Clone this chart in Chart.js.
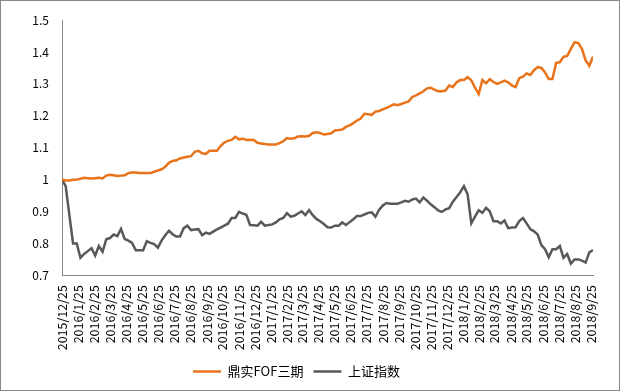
<!DOCTYPE html>
<html>
<head>
<meta charset="utf-8">
<script src="https://cdn.jsdelivr.net/npm/chart.js@4.4.0/dist/chart.umd.min.js"></script>
<style>
  body { margin: 0; background: #fff; }
  #box { position: relative; width: 620px; height: 391px; }
  #box canvas { position: absolute; left: 0; top: 0; }
  #frame { position: absolute; left: 0; top: 0; width: 620px; height: 391px; box-sizing: border-box; border: 1px solid #898989; pointer-events: none; }
</style>
</head>
<body>
<div id="box">
  <canvas id="myChart" width="620" height="391"></canvas>
  <div id="frame"></div>
</div>
<script>
// primera fecha de la serie semanal (viernes)
const startDate = "2015/12/25";

const monthLabels = [
  "2015/12/25", "2016/1/25", "2016/2/25", "2016/3/25", "2016/4/25", "2016/5/25",
  "2016/6/25", "2016/7/25", "2016/8/25", "2016/9/25", "2016/10/25", "2016/11/25",
  "2016/12/25", "2017/1/25", "2017/2/25", "2017/3/25", "2017/4/25", "2017/5/25",
  "2017/6/25", "2017/7/25", "2017/8/25", "2017/9/25", "2017/10/25", "2017/11/25",
  "2017/12/25", "2018/1/25", "2018/2/25", "2018/3/25", "2018/4/25", "2018/5/25",
  "2018/6/25", "2018/7/25", "2018/8/25", "2018/9/25"
];

const seriesNames = ["鼎实FOF三期", "上证指数"];

// valores semanales
const fofValues = [
  1.000, 0.997, 0.997, 0.999, 1.000, 1.002, 1.005, 1.004, 1.003, 1.004,
  1.005, 1.003, 1.012, 1.015, 1.013, 1.011, 1.012, 1.013, 1.020, 1.022,
  1.022, 1.020, 1.020, 1.020, 1.020, 1.024, 1.028, 1.032, 1.040, 1.052,
  1.058, 1.060, 1.066, 1.069, 1.071, 1.073, 1.087, 1.090, 1.082, 1.080,
  1.090, 1.090, 1.090, 1.105, 1.116, 1.121, 1.124, 1.134, 1.126, 1.128,
  1.124, 1.125, 1.124, 1.115, 1.113, 1.111, 1.110, 1.110, 1.110, 1.114,
  1.120, 1.130, 1.128, 1.129, 1.135, 1.136, 1.135, 1.137, 1.146, 1.148,
  1.146, 1.141, 1.143, 1.145, 1.154, 1.155, 1.157, 1.165, 1.170, 1.177,
  1.185, 1.191, 1.206, 1.205, 1.203, 1.213, 1.215, 1.220, 1.225, 1.230,
  1.236, 1.233, 1.237, 1.241, 1.245, 1.259, 1.264, 1.270, 1.277, 1.286,
  1.288, 1.282, 1.277, 1.277, 1.279, 1.295, 1.290, 1.305, 1.312, 1.312,
  1.321, 1.311, 1.288, 1.268, 1.312, 1.302, 1.315, 1.306, 1.300, 1.305,
  1.310, 1.305, 1.295, 1.290, 1.318, 1.323, 1.333, 1.328, 1.343, 1.353,
  1.350, 1.336, 1.315, 1.315, 1.366, 1.368, 1.385, 1.388, 1.410, 1.431,
  1.428, 1.410, 1.374, 1.357, 1.386
];

const szValues = [
  1.000, 0.979, 0.888, 0.799, 0.799, 0.754, 0.766, 0.775, 0.784, 0.761,
  0.791, 0.773, 0.812, 0.816, 0.827, 0.822, 0.845, 0.813, 0.808, 0.801,
  0.778, 0.778, 0.778, 0.806, 0.801, 0.797, 0.786, 0.808, 0.825, 0.839,
  0.828, 0.821, 0.821, 0.847, 0.855, 0.841, 0.843, 0.844, 0.825, 0.833,
  0.829, 0.836, 0.843, 0.849, 0.855, 0.861, 0.879, 0.879, 0.898, 0.893,
  0.889, 0.857, 0.856, 0.855, 0.867, 0.855, 0.857, 0.859, 0.865, 0.875,
  0.879, 0.894, 0.883, 0.886, 0.893, 0.900, 0.888, 0.904, 0.888, 0.876,
  0.869, 0.860, 0.850, 0.849, 0.855, 0.855, 0.865, 0.857, 0.866, 0.875,
  0.885, 0.885, 0.890, 0.895, 0.897, 0.883, 0.905, 0.918, 0.926, 0.924,
  0.924, 0.924, 0.928, 0.933, 0.930, 0.937, 0.940, 0.928, 0.943, 0.933,
  0.922, 0.913, 0.903, 0.898, 0.906, 0.910, 0.930, 0.945, 0.960, 0.979,
  0.953, 0.862, 0.883, 0.903, 0.895, 0.911, 0.900, 0.869, 0.869, 0.862,
  0.871, 0.847, 0.849, 0.850, 0.869, 0.879, 0.862, 0.844, 0.837, 0.827,
  0.794, 0.781, 0.756, 0.781, 0.781, 0.791, 0.754, 0.766, 0.736, 0.749,
  0.749, 0.745, 0.739, 0.771, 0.778
];

const yMin = 0.7, yMax = 1.5, yStep = 0.1;

// dias desde la fecha inicial
function dayOffset(label) {
  const p = label.split("/").map(Number);
  const s = startDate.split("/").map(Number);
  return (Date.UTC(p[0], p[1] - 1, p[2]) - Date.UTC(s[0], s[1] - 1, s[2])) / 86400000;
}

const toPoints = arr => arr.map((v, i) => ({ x: i * 7, y: v }));

const tickFont = { family: "'Noto Sans CJK SC', 'Liberation Sans', sans-serif", size: 12 };
const ctx = document.getElementById('myChart');

new Chart(ctx, {
  type: 'line',
  data: {
    datasets: [{
      label: seriesNames[0],
      data: toPoints(fofValues),
      borderColor: "#E8731A",
      backgroundColor: "#E8731A",
      borderWidth: 2.5,
      pointRadius: 0,
      pointStyle: 'line',
      tension: 0
    }, {
      label: seriesNames[1],
      data: toPoints(szValues),
      borderColor: "#595959",
      backgroundColor: "#595959",
      borderWidth: 2.5,
      pointRadius: 0,
      pointStyle: 'line',
      tension: 0
    }]
  },
  options: {
    responsive: false,
    animation: false,
    devicePixelRatio: 1,
    layout: { padding: { left: 0, right: 27, top: 12, bottom: 3 } },
    plugins: {
      tooltip: { enabled: false },
      legend: {
        position: 'bottom',
        labels: {
          usePointStyle: true,
          pointStyleWidth: 28,
          padding: 10,
          color: "#000",
          font: { family: "'Noto Sans CJK SC', sans-serif", size: 13 }
        }
      }
    },
    scales: {
      x: {
        type: 'linear',
        min: 0,
        max: (fofValues.length - 1) * 7,
        afterBuildTicks: scale => {
          scale.ticks = monthLabels.map(l => ({ value: dayOffset(l) }));
        },
        afterFit: scale => { scale.height = 80; },
        ticks: {
          autoSkip: false,
          minRotation: 90,
          maxRotation: 90,
          padding: 10,
          color: "#000",
          font: { family: tickFont.family, size: 12.5 },
          callback: (v, i) => monthLabels[i]
        },
        grid: { display: false, drawTicks: false },
        border: { display: true, color: "#868686", width: 1 }
      },
      y: {
        min: yMin,
        max: yMax,
        afterFit: scale => { scale.width = 62; },
        ticks: {
          stepSize: yStep,
          padding: 13,
          color: "#000",
          font: tickFont,
          callback: v => String(+v.toFixed(1))
        },
        grid: { display: false, drawTicks: false },
        border: { display: true, color: "#868686", width: 1 }
      }
    }
  }
});
</script>
</body>
</html>
